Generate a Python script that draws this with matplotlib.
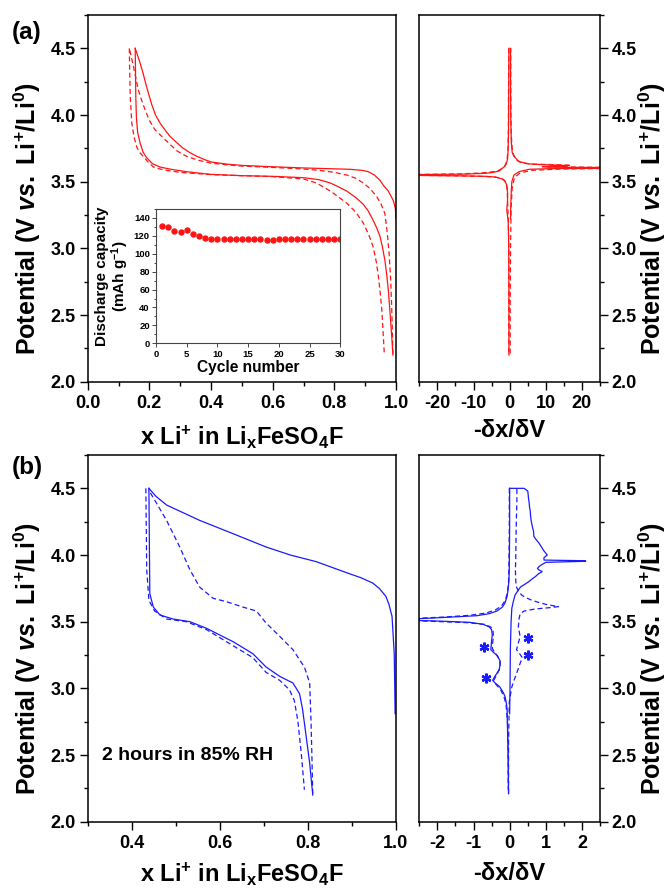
import matplotlib
matplotlib.use('Agg')
import matplotlib.pyplot as plt
from matplotlib.ticker import MultipleLocator

plt.rcParams['font.family'] = ['Liberation Sans', 'DejaVu Sans']
plt.rcParams['font.weight'] = 'bold'
plt.rcParams['mathtext.fontset'] = 'custom'
plt.rcParams['mathtext.rm'] = 'Liberation Sans:bold'
plt.rcParams['mathtext.bf'] = 'Liberation Sans:bold'
plt.rcParams['mathtext.it'] = 'Liberation Sans:italic:bold'
plt.rcParams['axes.unicode_minus'] = False

# ---------------- Panel (a): voltage profiles (x, V) ----------------
a_chg_solid_x = [1.000, 0.998, 0.991, 0.975, 0.960, 0.948, 0.930, 0.910, 0.890, 0.850, 0.790, 0.700,
                 0.600, 0.500, 0.450, 0.400, 0.380, 0.354, 0.330, 0.310, 0.290, 0.267, 0.250, 0.2345,
                 0.220, 0.2075, 0.190, 0.180, 0.170, 0.160, 0.154]
a_chg_solid_v = [3.22, 3.30, 3.36, 3.43, 3.47, 3.51, 3.55, 3.575, 3.585, 3.593, 3.597, 3.603,
                 3.612, 3.622, 3.632, 3.648, 3.665, 3.69, 3.72, 3.75, 3.79, 3.84, 3.89, 3.94,
                 4.00, 4.08, 4.22, 4.31, 4.39, 4.46, 4.50]

a_dis_solid_x = [0.154, 0.155, 0.156, 0.158, 0.162, 0.170, 0.180, 0.191, 0.210, 0.2345, 0.255, 0.278,
                 0.320, 0.397, 0.500, 0.600, 0.700, 0.750, 0.787, 0.810, 0.840, 0.870, 0.894, 0.910,
                 0.926, 0.938, 0.948, 0.956, 0.964, 0.970, 0.975, 0.979, 0.983, 0.987, 0.990]
a_dis_solid_v = [4.50, 4.35, 4.14, 3.98, 3.87, 3.79, 3.72, 3.68, 3.635, 3.61, 3.60, 3.59,
                 3.575, 3.555, 3.545, 3.54, 3.53, 3.515, 3.49, 3.465, 3.43, 3.38, 3.33, 3.28,
                 3.21, 3.15, 3.09, 3.01, 2.91, 2.80, 2.69, 2.57, 2.44, 2.31, 2.20]

a_chg_dash_x = [0.990, 0.988, 0.986, 0.983, 0.978, 0.972, 0.964, 0.952, 0.937, 0.915, 0.894, 0.870,
                0.840, 0.800, 0.750, 0.700, 0.600, 0.500, 0.450, 0.397, 0.360, 0.321, 0.290, 0.267,
                0.240, 0.218, 0.200, 0.186, 0.175, 0.164, 0.155, 0.146, 0.140, 0.135]
a_chg_dash_v = [2.21, 2.40, 2.56, 2.75, 2.95, 3.11, 3.26, 3.33, 3.39, 3.45, 3.49, 3.525,
                3.55, 3.57, 3.585, 3.595, 3.607, 3.617, 3.627, 3.64, 3.66, 3.69, 3.73, 3.78,
                3.84, 3.89, 3.96, 4.04, 4.11, 4.19, 4.29, 4.39, 4.45, 4.50]

a_dis_dash_x = [0.135, 0.136, 0.138, 0.143, 0.150, 0.159, 0.168, 0.180, 0.195, 0.213, 0.235, 0.256,
                0.300, 0.400, 0.500, 0.600, 0.700, 0.742, 0.787, 0.840, 0.870, 0.894, 0.912, 0.926,
                0.936, 0.943, 0.949, 0.954, 0.958, 0.962]
a_dis_dash_v = [4.50, 4.35, 4.14, 3.94, 3.84, 3.76, 3.72, 3.69, 3.65, 3.61, 3.595, 3.585,
                3.57, 3.553, 3.545, 3.538, 3.52, 3.49, 3.43, 3.34, 3.27, 3.19, 3.10, 3.01,
                2.90, 2.79, 2.66, 2.54, 2.38, 2.21]

# inset: discharge capacity vs cycle
cycles = list(range(1, 31))
capacity = [131, 130, 125, 124, 126, 122, 120, 118, 117, 117, 117, 116, 116, 117, 117,
            116, 116, 115, 115, 116, 117, 116, 116, 116, 117, 116, 116, 117, 117, 117]

# ---------------- Panel (a): -dx/dV ----------------
a_dq_cs_v = [3.22, 3.30, 3.40, 3.50, 3.55, 3.575, 3.593, 3.598, 3.601, 3.605, 3.609, 3.613,
             3.617, 3.621, 3.625, 3.629, 3.633, 3.65, 3.69, 3.72, 3.80, 4.00, 4.25, 4.50]
a_dq_cs = [0.25, 0.3, 0.4, 0.6, 1.2, 2.6, 5.4, 12, 30, 30, 12, 9,
           15, 16, 12, 8, 5.4, 2.6, 1.2, 0.7, 0.45, 0.3, 0.25, 0.25]

a_dq_cd_v = [2.21, 2.60, 3.00, 3.30, 3.45, 3.53, 3.565, 3.585, 3.595, 3.600, 3.606, 3.612,
             3.618, 3.623, 3.627, 3.632, 3.64, 3.66, 3.70, 3.75, 3.85, 4.00, 4.25, 4.50]
a_dq_cd = [0.15, 0.15, 0.25, 0.4, 0.7, 1.3, 2.8, 6, 14, 30, 30, 10,
           14, 17, 13, 6, 3.5, 2.0, 1.1, 0.7, 0.45, 0.35, 0.3, 0.3]

a_dq_ds_v = [4.50, 4.20, 3.90, 3.75, 3.68, 3.66, 3.63, 3.61, 3.595, 3.58, 3.57, 3.563, 3.557,
             3.552, 3.548, 3.544, 3.54, 3.535, 3.52, 3.50, 3.475, 3.41, 3.35, 3.29, 3.20,
             3.00, 2.60, 2.20]
a_dq_ds = [-0.2, -0.25, -0.3, -0.4, -0.55, -0.65, -1.0, -1.56, -2.3, -2.9, -4.5, -6.6, -12,
           -30, -30, -14, -6.6, -4.0, -2.0, -1.2, -0.8, -0.55, -0.6, -0.8, -0.4,
           -0.25, -0.2, -0.2]

a_dq_dd_v = [4.50, 4.20, 3.90, 3.75, 3.68, 3.65, 3.62, 3.60, 3.585, 3.575, 3.565, 3.558, 3.553,
             3.549, 3.545, 3.541, 3.537, 3.53, 3.515, 3.49, 3.45, 3.38, 3.30, 3.20, 3.00,
             2.60, 2.22]
a_dq_dd = [-0.25, -0.3, -0.35, -0.45, -0.65, -0.85, -1.3, -2.0, -3.0, -4.5, -8, -14, -30,
           -30, -18, -9, -5, -3.0, -1.6, -1.0, -0.7, -0.6, -0.5, -0.35, -0.25,
           -0.2, -0.2]

# ---------------- Panel (b): voltage profiles ----------------
b_chg_solid_x = [0.998, 0.997, 0.996, 0.991, 0.984, 0.977, 0.962, 0.947, 0.920, 0.894, 0.819,
                 0.760, 0.705, 0.630, 0.554, 0.479, 0.455, 0.439]
b_chg_solid_v = [2.81, 3.05, 3.26, 3.54, 3.63, 3.69, 3.75, 3.79, 3.83, 3.86, 3.95,
                 4.00, 4.06, 4.16, 4.26, 4.375, 4.44, 4.50]

b_dis_solid_x = [0.439, 0.440, 0.441, 0.449, 0.464, 0.494, 0.532, 0.570, 0.630, 0.675, 0.705,
                 0.736, 0.766, 0.781, 0.788, 0.796, 0.804, 0.811]
b_dis_solid_v = [4.50, 4.10, 3.71, 3.61, 3.55, 3.52, 3.50, 3.45, 3.35, 3.26, 3.16,
                 3.09, 3.04, 2.96, 2.84, 2.64, 2.44, 2.20]

b_chg_dash_x = [0.811, 0.809, 0.807, 0.804, 0.792, 0.766, 0.736, 0.705, 0.683, 0.652, 0.615,
                0.585, 0.554, 0.532, 0.509, 0.479, 0.456, 0.438]
b_chg_dash_v = [2.21, 2.50, 2.76, 3.04, 3.16, 3.29, 3.39, 3.49, 3.58, 3.61, 3.65,
                3.675, 3.76, 3.89, 4.06, 4.26, 4.39, 4.49]

b_dis_dash_x = [0.432, 0.433, 0.434, 0.439, 0.452, 0.479, 0.524, 0.570, 0.630, 0.675, 0.705,
                0.736, 0.758, 0.769, 0.777, 0.785, 0.792]
b_dis_dash_v = [4.50, 4.20, 3.89, 3.66, 3.58, 3.52, 3.50, 3.44, 3.32, 3.23, 3.12,
                3.06, 2.99, 2.91, 2.76, 2.51, 2.24]

# ---------------- Panel (b): -dx/dV ----------------
b_dq_cs_v = [2.81, 3.00, 3.30, 3.50, 3.60, 3.65, 3.70, 3.725, 3.76, 3.80, 3.82, 3.84, 3.86,
             3.875, 3.89, 3.90, 3.915, 3.93, 3.945, 3.953, 3.957, 3.962, 3.98, 4.00, 4.03,
             4.06, 4.09, 4.12, 4.14, 4.18, 4.21, 4.25, 4.29, 4.33, 4.36, 4.39, 4.43, 4.46,
             4.48, 4.50, 4.50]
b_dq_cs = [0.00, 0.01, 0.02, 0.04, 0.06, 0.10, 0.15, 0.21, 0.30, 0.53, 0.62, 0.72, 0.80,
           0.90, 0.80, 0.77, 0.82, 0.90, 1.00, 2.10, 2.10, 0.95, 0.95, 1.04, 0.95,
           0.88, 0.81, 0.72, 0.67, 0.66, 0.63, 0.60, 0.58, 0.57, 0.55, 0.54, 0.52, 0.51,
           0.50, 0.40, 0.00]

b_dq_ds_v = [4.50, 4.20, 3.90, 3.81, 3.75, 3.69, 3.64, 3.61, 3.58, 3.56, 3.545, 3.535, 3.525,
             3.518, 3.512, 3.505, 3.495, 3.48, 3.46, 3.44, 3.40, 3.36, 3.32, 3.29, 3.27,
             3.25, 3.21, 3.17, 3.14, 3.11, 3.09, 3.06, 3.04, 3.01, 2.97, 2.94, 2.89, 2.84,
             2.70, 2.59, 2.40, 2.21]
b_dq_ds = [0.00, 0.00, -0.01, -0.02, -0.04, -0.07, -0.13, -0.20, -0.35, -0.57, -0.90, -1.59,
           -2.3, -3.0, -3.0, -2.0, -1.1, -0.73, -0.56, -0.50, -0.48, -0.50, -0.51, -0.52,
           -0.45, -0.36, -0.27, -0.27, -0.29, -0.36, -0.41, -0.47, -0.40, -0.27, -0.18,
           -0.13, -0.09, -0.07, -0.06, -0.05, -0.04, -0.03]

b_dq_cd_v = [2.21, 2.60, 2.90, 3.01, 3.06, 3.11, 3.18, 3.23, 3.27, 3.29, 3.35, 3.39, 3.46,
             3.52, 3.56, 3.58, 3.595, 3.605, 3.613, 3.62, 3.63, 3.645, 3.66, 3.68, 3.70,
             3.73, 3.76, 3.80, 3.88, 4.00, 4.20, 4.40, 4.50]
b_dq_cd = [-0.03, -0.03, -0.01, 0.06, 0.12, 0.19, 0.28, 0.35, 0.25, 0.19, 0.25, 0.29, 0.24,
           0.26, 0.29, 0.40, 0.70, 1.10, 1.35, 1.20, 1.00, 0.80, 0.62, 0.45, 0.33,
           0.24, 0.19, 0.17, 0.16, 0.17, 0.18, 0.20, 0.20]

b_dq_dd_v = [4.50, 4.20, 3.90, 3.80, 3.72, 3.66, 3.62, 3.59, 3.565, 3.548, 3.535, 3.525, 3.518,
             3.511, 3.503, 3.493, 3.48, 3.46, 3.43, 3.39, 3.34, 3.30, 3.27, 3.24, 3.20,
             3.15, 3.10, 3.06, 3.03, 2.99, 2.94, 2.88, 2.75, 2.50, 2.24]
b_dq_dd = [-0.01, -0.01, -0.02, -0.03, -0.06, -0.12, -0.22, -0.38, -0.65, -1.1, -1.8, -2.6,
           -3.0, -3.0, -2.2, -1.2, -0.70, -0.52, -0.46, -0.45, -0.47, -0.48, -0.42, -0.33,
           -0.26, -0.27, -0.36, -0.44, -0.38, -0.25, -0.16, -0.10, -0.06, -0.04, -0.04]

# asterisk markers in (b) -dx/dV panel
star_x = [-0.71, -0.66, 0.52, 0.50]
star_v = [3.31, 3.08, 3.38, 3.25]

# ---------------- Drawing ----------------
RED = '#ff1414'
BLUE = '#1a1aff'
LW = 0.9
DASH = (4, 2.5)

W, H = 671, 888
fig = plt.figure(figsize=(W / 100, H / 100), dpi=100)


def px_axes(l, t, r, b):
    return fig.add_axes([l / W, 1 - b / H, (r - l) / W, (b - t) / H])


axA = px_axes(87.7, 15, 396, 381.7)
axAd = px_axes(419.3, 15, 600, 381.7)
axB = px_axes(87.7, 455, 396, 821.7)
axBd = px_axes(419.3, 455, 600, 821.7)
ins = px_axes(156, 209, 340.3, 343.3)

TICK_FS = 13
LABEL_FS = 17
YLAB_FS = 18
ylab = r'Potential (V $\mathit{vs.}$ Li$^{\mathrm{+}}$/Li$^{\mathrm{0}}$)'
xlab = r'x Li$^{\mathrm{+}}$ in Li$_{\mathrm{x}}$FeSO$_{\mathrm{4}}$F'


def style(ax, right=False):
    for s in ax.spines.values():
        s.set_linewidth(1.1)
    ax.tick_params(which='both', direction='out', width=1.0, labelsize=TICK_FS,
                   top=False)
    ax.tick_params(which='major', length=5.5)
    ax.tick_params(which='minor', length=3)
    ax.tick_params(axis='x', pad=4)
    ax.tick_params(axis='y', pad=3)
    ax.set_ylim(2.0, 4.75)
    ax.yaxis.set_major_locator(MultipleLocator(0.5))
    ax.yaxis.set_minor_locator(MultipleLocator(0.25))
    if right:
        ax.yaxis.tick_right()
        ax.tick_params(axis='y', which='both', left=False, right=True,
                       labelleft=False, labelright=True)
        ax.yaxis.set_label_position('right')
        ax.set_ylabel(ylab, fontsize=YLAB_FS, fontweight='bold', rotation=90)
        ax.yaxis.set_label_coords(1.29, 0.445)
    else:
        ax.tick_params(axis='y', which='both', right=False)
        ax.set_ylabel(ylab, fontsize=YLAB_FS, fontweight='bold')
        ax.yaxis.set_label_coords(-0.195, 0.445)
    ax.yaxis.label.set_va('center')
    for lab in ax.get_xticklabels() + ax.get_yticklabels():
        lab.set_fontweight('bold')


# (a) left
axA.plot(a_chg_solid_x, a_chg_solid_v, color=RED, lw=LW)
axA.plot(a_dis_solid_x, a_dis_solid_v, color=RED, lw=LW)
axA.plot(a_chg_dash_x, a_chg_dash_v, color=RED, lw=LW, dashes=DASH)
axA.plot(a_dis_dash_x, a_dis_dash_v, color=RED, lw=LW, dashes=DASH)
axA.set_xlim(0.0, 1.0)
axA.xaxis.set_major_locator(MultipleLocator(0.2))
axA.xaxis.set_minor_locator(MultipleLocator(0.1))
axA.xaxis.set_major_formatter(matplotlib.ticker.FormatStrFormatter('%.1f'))
style(axA)
axA.set_xlabel(xlab, fontsize=LABEL_FS, fontweight='bold')
axA.xaxis.set_label_coords(0.5, -0.151)
axA.xaxis.label.set_va('center')

# (a) right
axAd.plot(a_dq_cs, a_dq_cs_v, color=RED, lw=LW)
axAd.plot(a_dq_ds, a_dq_ds_v, color=RED, lw=LW)
axAd.plot(a_dq_cd, a_dq_cd_v, color=RED, lw=LW, dashes=DASH)
axAd.plot(a_dq_dd, a_dq_dd_v, color=RED, lw=LW, dashes=DASH)
axAd.set_xlim(-25, 25)
axAd.xaxis.set_major_locator(MultipleLocator(10))
axAd.xaxis.set_minor_locator(MultipleLocator(5))
style(axAd, right=True)
axAd.set_xlabel('-δx/δV', fontsize=LABEL_FS, fontweight='bold')
axAd.xaxis.set_label_coords(0.5, -0.134)
axAd.xaxis.label.set_va('center')

# inset
ins.plot(cycles, capacity, ls='none', marker='o', ms=3.6, color=RED, mec=RED)
ins.set_xlim(0, 30)
ins.set_ylim(0, 150)
ins.xaxis.set_major_locator(MultipleLocator(5))
ins.yaxis.set_major_locator(MultipleLocator(20))
ins.yaxis.set_minor_locator(MultipleLocator(10))
for s in ins.spines.values():
    s.set_linewidth(0.8)
    s.set_color('#444444')
ins.tick_params(which='both', direction='out', width=0.7, labelsize=6.8, pad=1.5,
                color='#444444')
ins.tick_params(which='major', length=3)
ins.tick_params(which='minor', length=1.8)
for lab in ins.get_xticklabels() + ins.get_yticklabels():
    lab.set_fontweight('bold')
ins.set_xlabel('Cycle number', fontsize=11.2, fontweight='bold', labelpad=1)
ins.set_ylabel('Discharge capacity\n(mAh g$^{\\mathrm{-1}}$)', fontsize=11,
               fontweight='bold', labelpad=2, linespacing=1.0)

# (b) left
axB.plot(b_chg_solid_x, b_chg_solid_v, color=BLUE, lw=LW)
axB.plot(b_dis_solid_x, b_dis_solid_v, color=BLUE, lw=LW)
axB.plot(b_chg_dash_x, b_chg_dash_v, color=BLUE, lw=LW, dashes=DASH)
axB.plot(b_dis_dash_x, b_dis_dash_v, color=BLUE, lw=LW, dashes=DASH)
axB.set_xlim(0.3, 1.0)
axB.set_xticks([0.4, 0.6, 0.8, 1.0])
axB.xaxis.set_minor_locator(MultipleLocator(0.1))
axB.xaxis.set_major_formatter(matplotlib.ticker.FormatStrFormatter('%.1f'))
style(axB)
axB.set_xlabel(xlab, fontsize=LABEL_FS, fontweight='bold')
axB.xaxis.set_label_coords(0.5, -0.145)
axB.xaxis.label.set_va('center')
axB.text(0.332, 2.46, '2 hours in 85% RH', fontsize=14, fontweight='bold',
         ha='left', va='baseline')

# (b) right
axBd.plot(b_dq_cs, b_dq_cs_v, color=BLUE, lw=LW)
axBd.plot(b_dq_ds, b_dq_ds_v, color=BLUE, lw=LW)
axBd.plot(b_dq_cd, b_dq_cd_v, color=BLUE, lw=LW, dashes=DASH)
axBd.plot(b_dq_dd, b_dq_dd_v, color=BLUE, lw=LW, dashes=DASH)
axBd.plot(star_x, star_v, ls='none', marker=(6, 2, 0), ms=7, mew=1.7, color=BLUE)
axBd.set_xlim(-2.5, 2.5)
axBd.xaxis.set_major_locator(MultipleLocator(1))
axBd.xaxis.set_minor_locator(MultipleLocator(0.5))
style(axBd, right=True)
axBd.set_xlabel('-δx/δV', fontsize=LABEL_FS, fontweight='bold')
axBd.xaxis.set_label_coords(0.5, -0.141)
axBd.xaxis.label.set_va('center')

# panel labels
fig.text(27 / W, 1 - 33 / H, '(a)', fontsize=17.5, fontweight='bold', ha='center', va='center')
fig.text(27 / W, 1 - 467 / H, '(b)', fontsize=17.5, fontweight='bold', ha='center', va='center')

fig.savefig('out.png', dpi=100)
